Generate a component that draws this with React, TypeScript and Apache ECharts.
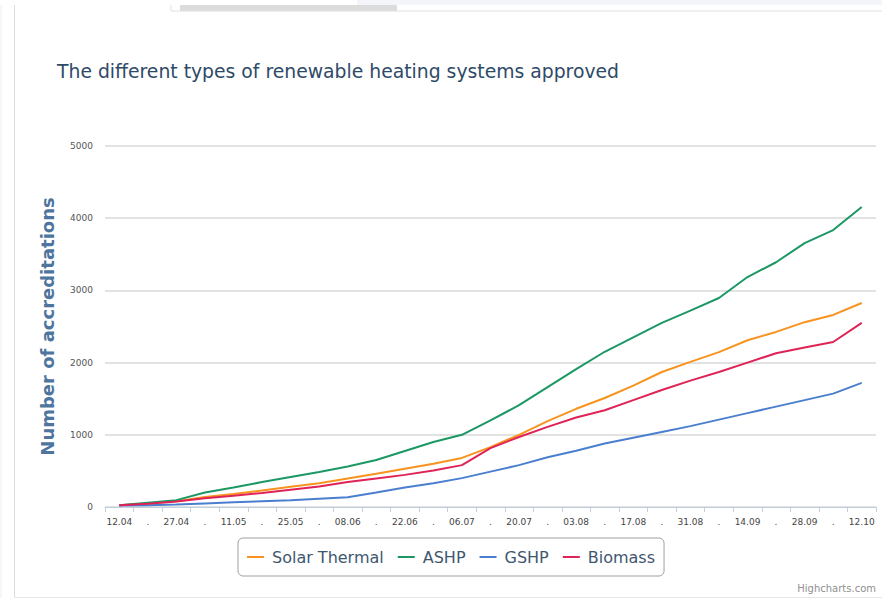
import React, { useEffect, useRef } from "react";
import * as echarts from "echarts";

const categories = [
  "12.04", "19.04", "27.04", "04.05", "11.05", "18.05", "25.05", "01.06", "08.06",
  "15.06", "22.06", "29.06", "06.07", "13.07", "20.07", "27.07", "03.08", "10.08",
  "17.08", "24.08", "31.08", "07.09", "14.09", "21.09", "28.09", "05.10", "12.10",
];

const solarThermal = [25, 50, 80, 140, 180, 230, 280, 330, 395, 460, 530, 600, 680, 830, 1000, 1190, 1360, 1510, 1680, 1870, 2010, 2145, 2310, 2425, 2560, 2660, 2825];
const ashp = [25, 60, 95, 200, 270, 345, 415, 485, 560, 650, 775, 900, 1000, 1200, 1410, 1660, 1910, 2150, 2350, 2550, 2720, 2895, 3185, 3390, 3655, 3836, 4155];
const gshp = [20, 25, 35, 50, 65, 80, 95, 115, 135, 200, 270, 330, 400, 490, 580, 690, 780, 880, 960, 1040, 1120, 1210, 1300, 1390, 1480, 1570, 1720];
const biomass = [25, 45, 75, 120, 155, 195, 240, 285, 345, 395, 445, 505, 580, 815, 970, 1110, 1240, 1340, 1480, 1620, 1750, 1870, 2000, 2130, 2210, 2285, 2550];

const seriesNames = ["Solar Thermal", "ASHP", "GSHP", "Biomass"];
const seriesColors = ["#F7931E", "#1B9863", "#4A7FCF", "#DF2356"];

export default function App() {
  const ref = useRef<HTMLDivElement>(null);
  useEffect(() => {
    if (!ref.current) return;
    const chart = echarts.init(ref.current, undefined, { renderer: "svg" });
    const values = [solarThermal, ashp, gshp, biomass];
    chart.setOption({
      animation: false,
      backgroundColor: "#ffffff",
      title: {
        text: "The different types of renewable heating systems approved",
        left: 52,
        top: 57,
        textStyle: {
          fontFamily: "DejaVu Sans",
          fontSize: 18.8,
          fontWeight: "normal",
          color: "#2E4A67",
        },
      },
      grid: { left: 105, right: 6, top: 146, bottom: 96, containLabel: false },
      xAxis: {
        type: "category",
        data: categories,
        boundaryGap: true,
        axisLine: { lineStyle: { color: "#C0D0E0", width: 1 } },
        axisTick: { show: true, length: 5, lineStyle: { color: "#C0D0E0" } },
        axisLabel: {
          interval: 0,
          margin: 10,
          fontSize: 9,
          fontFamily: "DejaVu Sans",
          color: "#444444",
          formatter: (v: string, i: number) => (i % 2 === 0 ? v : "."),
        },
      },
      yAxis: {
        type: "value",
        min: 0,
        max: 5000,
        interval: 1000,
        name: "Number of accreditations",
        nameLocation: "middle",
        nameRotate: 90,
        nameGap: 49,
        nameTextStyle: {
          fontFamily: "DejaVu Sans",
          fontSize: 18,
          fontWeight: "bold",
          color: "#4D759E",
        },
        axisLine: { show: false },
        axisTick: { show: false },
        axisLabel: {
          fontSize: 9,
          fontFamily: "DejaVu Sans",
          color: "#555555",
          margin: 12,
          formatter: (v: number) => String(v),
        },
        splitLine: { lineStyle: { color: "#E2E2E2", width: 2 } },
      },
      legend: {
        left: 238,
        top: 538,
        padding: [11, 9, 11, 9],
        itemGap: 14,
        itemWidth: 17,
        itemHeight: 2,
        icon: "rect",
        borderColor: "#A0A0A0",
        borderWidth: 1,
        borderRadius: 5,
        textStyle: {
          fontFamily: "DejaVu Sans",
          fontSize: 16,
          color: "#3E576F",
          padding: [0, 0, 0, 3],
        },
        data: seriesNames,
      },
      series: seriesNames.map((name, i) => ({
        name,
        type: "line",
        data: values[i],
        showSymbol: false,
        symbol: "none",
        lineStyle: { color: seriesColors[i], width: 2 },
        itemStyle: { color: seriesColors[i] },
      })),
      graphic: [
        { type: "rect", shape: { x: 357, y: 0, width: 525, height: 5 }, style: { fill: "#F4F5FA" } },
        { type: "rect", shape: { x: 180, y: 5, width: 217, height: 6 }, style: { fill: "#DCDCDC" } },
        { type: "line", shape: { x1: 171, y1: 11, x2: 882, y2: 11 }, style: { stroke: "#E0E0E0", lineWidth: 1 } },
        { type: "line", shape: { x1: 171, y1: 5, x2: 171, y2: 11 }, style: { stroke: "#E0E0E0", lineWidth: 1 } },
        { type: "line", shape: { x1: 1, y1: 5, x2: 1, y2: 598 }, style: { stroke: "#EEEEEE", lineWidth: 1 } },
        { type: "line", shape: { x1: 14.5, y1: 5, x2: 14.5, y2: 598 }, style: { stroke: "#DDDDDD", lineWidth: 1 } },
        { type: "line", shape: { x1: 14, y1: 597.5, x2: 882, y2: 597.5 }, style: { stroke: "#E6E6E6", lineWidth: 1 } },
        {
          type: "text",
          right: 6,
          top: 583,
          style: { text: "Highcharts.com", fontSize: 10, fontFamily: "DejaVu Sans", fill: "#909090" },
        },
      ],
    });
    return () => chart.dispose();
  }, []);
  return (
    <div
      ref={ref}
      style={{ position: "fixed", left: 0, top: 0, width: 882, height: 603, background: "#fff" }}
    />
  );
}
